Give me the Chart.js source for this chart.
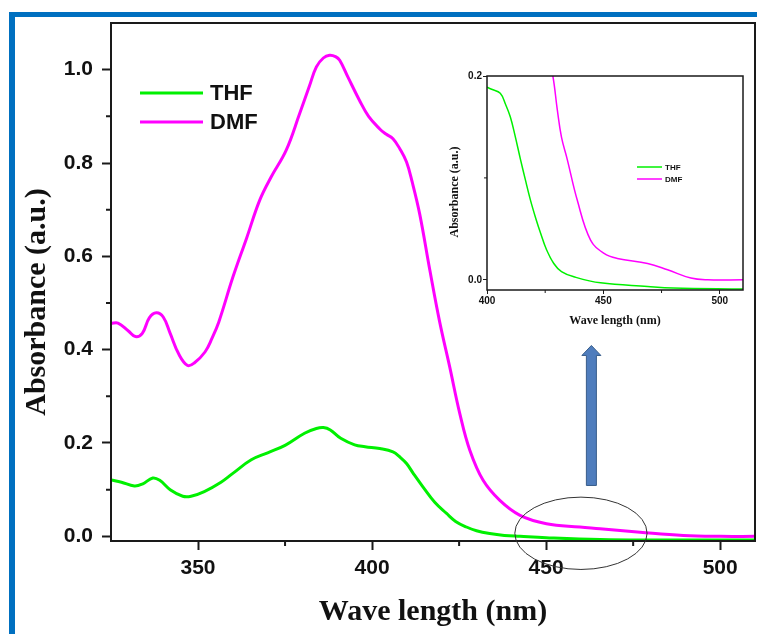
<!DOCTYPE html>
<html>
<head>
<meta charset="utf-8">
<script src="https://cdn.jsdelivr.net/npm/chart.js@4.4.0/dist/chart.umd.min.js"></script>
<style>
html, body { margin: 0; padding: 0; background: #fff; overflow: hidden; }
#frame { position: absolute; left: 9px; top: 12px; width: 800px; height: 700px;
         border-top: 5px solid #0070c0; border-left: 6px solid #0070c0; }
#c1 { position: absolute; left: 0; top: 0; }
#c2 { position: absolute; left: 440px; top: 60px; }
</style>
</head>
<body>
<div id="frame"></div>
<canvas id="c1" width="757" height="634"></canvas>
<canvas id="c2" width="317" height="280"></canvas>
<script>
// series names
const series = ['THF', 'DMF'];

// main plot, DMF
const wlDMF = [325, 327, 330, 332, 334, 336, 338, 340, 342, 344.5, 347, 349, 352, 354, 356, 360, 364,
  367.7, 371, 375.3, 379.2, 382, 384, 386, 387.8, 389.5, 390.7, 393, 396.4, 399, 402.2, 404, 406, 408,
  409.9, 411.5, 413.7, 416.6, 419.4, 422.3, 425.2, 428.1, 431.9, 436.7, 442.5, 450.1, 459.7, 465.5,
  477, 489.4, 500, 510];
const absDMF = [0.456, 0.457, 0.44, 0.428, 0.435, 0.468, 0.479, 0.47, 0.435, 0.39, 0.366, 0.372, 0.395,
  0.424, 0.46, 0.555, 0.64, 0.72, 0.77, 0.827, 0.906, 0.965, 1.006, 1.025, 1.031, 1.028, 1.02, 0.985,
  0.934, 0.9, 0.873, 0.862, 0.852, 0.83, 0.802, 0.76, 0.69, 0.57, 0.46, 0.363, 0.263, 0.184, 0.12,
  0.077, 0.045, 0.027, 0.02, 0.0165, 0.009, 0.002, 0.0, 0.0];

// main plot, THF
const wlTHF = [325, 328, 331.7, 334, 337, 339, 342, 345.6, 348, 351.8, 356.6, 360, 365.3, 370, 375,
  380.6, 384, 386, 388, 391, 395, 398, 402.2, 406, 408, 409.9, 412, 414.6, 418, 421.4, 424, 427.1,
  430, 433.8, 438, 442.5, 450, 465.5, 480, 510];
const absTHF = [0.121, 0.116, 0.108, 0.112, 0.125, 0.12, 0.1, 0.086, 0.086, 0.096, 0.116, 0.135, 0.164,
  0.179, 0.195, 0.221, 0.231, 0.233, 0.228, 0.21, 0.196, 0.192, 0.188, 0.181, 0.17, 0.156, 0.133,
  0.106, 0.073, 0.049, 0.032, 0.02, 0.012, 0.006, 0.002, 0.0, -0.003, -0.007, -0.008, -0.008];

// inset
const insetWlDMF = [426.5, 428.3, 430.2, 432, 434.5, 438.8, 444.5, 450.3, 456, 469, 477.6, 487.6, 494.8, 510];
const insetAbsDMF = [0.215, 0.2, 0.167, 0.14, 0.118, 0.078, 0.039, 0.026, 0.021, 0.016, 0.0098, 0.0017, 0.0, 0.0];
const insetWlTHF = [400, 402, 405.7, 408, 410, 412, 414.4, 416.5, 418.7, 421, 423, 425.5, 428.7, 432,
  437.3, 448.8, 469, 480, 510];
const insetAbsTHF = [0.189, 0.187, 0.183, 0.172, 0.16, 0.142, 0.118, 0.098, 0.078, 0.06, 0.046, 0.03,
  0.016, 0.008, 0.003, -0.003, -0.0065, -0.008, -0.009];

// ticks
const xTicks = [350, 400, 450, 500];
const xMinor = [375, 425, 475];
const yTicks = [0, 0.2, 0.4, 0.6, 0.8, 1.0];
const yMinor = [0.1, 0.3, 0.5, 0.7, 0.9];
const insetXTicks = [400, 450, 500];
const insetXMinor = [425, 475];
const insetYTicks = [0, 0.2];
const insetYMinor = [0.1];

// annotations (data coordinates)
const ellipseBox = { wl: [441, 479], abs: [-0.071, 0.084] };
const arrowMark = { wl: 463, from: 0.109, to: 0.409 };

const colors = ['#00f000', '#ff00ff'];
const SANS = "'Liberation Sans', Arial, sans-serif";
const SERIF = "'Liberation Serif', 'Times New Roman', serif";

function pts(xs, ys) {
  return xs.map((v, i) => ({ x: v, y: ys[i] }));
}

const deco = {
  id: 'deco',
  afterDraw(chart, args, o) {
    const { ctx, chartArea: a, scales: { x, y } } = chart;
    ctx.save();
    ctx.strokeStyle = '#1a1a1a';
    ctx.lineWidth = o.tickWidth;
    ctx.beginPath();
    o.xMinor.forEach(v => {
      const px = x.getPixelForValue(v);
      ctx.moveTo(px, a.bottom);
      ctx.lineTo(px, a.bottom + o.minorLen);
    });
    o.yMinor.forEach(v => {
      const py = y.getPixelForValue(v);
      ctx.moveTo(a.left, py);
      ctx.lineTo(a.left - o.minorLen, py);
    });
    ctx.stroke();

    // box
    ctx.lineWidth = o.frameWidth;
    ctx.strokeRect(a.left, a.top, a.right - a.left, a.bottom - a.top);

    // legend
    ctx.font = o.legend.font;
    ctx.textBaseline = 'middle';
    ctx.textAlign = 'left';
    chart.data.datasets.forEach((ds, i) => {
      const ly = o.legend.y + i * o.legend.gap;
      ctx.strokeStyle = ds.borderColor;
      ctx.lineWidth = ds.borderWidth;
      ctx.beginPath();
      ctx.moveTo(o.legend.x, ly);
      ctx.lineTo(o.legend.x + o.legend.len, ly);
      ctx.stroke();
      ctx.fillStyle = '#111';
      ctx.fillText(ds.label, o.legend.x + o.legend.len + o.legend.space, ly + 1);
    });

    // y title
    ctx.font = o.yTitle.font;
    ctx.fillStyle = '#111';
    ctx.textAlign = 'center';
    ctx.translate(o.yTitle.x, o.yTitle.y);
    ctx.rotate(-Math.PI / 2);
    ctx.fillText(o.yTitle.text, 0, 0);
    ctx.restore();

    if (o.marks) {
      ctx.save();
      // ellipse
      const ex0 = x.getPixelForValue(ellipseBox.wl[0]), ex1 = x.getPixelForValue(ellipseBox.wl[1]);
      const ey0 = y.getPixelForValue(ellipseBox.abs[0]), ey1 = y.getPixelForValue(ellipseBox.abs[1]);
      ctx.strokeStyle = '#333';
      ctx.lineWidth = 1;
      ctx.beginPath();
      ctx.ellipse((ex0 + ex1) / 2, (ey0 + ey1) / 2, Math.abs(ex1 - ex0) / 2, Math.abs(ey1 - ey0) / 2, 0, 0, Math.PI * 2);
      ctx.stroke();
      // arrow
      const ax = x.getPixelForValue(arrowMark.wl);
      const yb = y.getPixelForValue(arrowMark.from);
      const yt = y.getPixelForValue(arrowMark.to);
      ctx.fillStyle = '#4f7dbd';
      ctx.strokeStyle = '#385d8a';
      ctx.beginPath();
      ctx.moveTo(ax - 5, yb);
      ctx.lineTo(ax - 5, yt + 10);
      ctx.lineTo(ax - 9.5, yt + 10);
      ctx.lineTo(ax, yt);
      ctx.lineTo(ax + 9.5, yt + 10);
      ctx.lineTo(ax + 5, yt + 10);
      ctx.lineTo(ax + 5, yb);
      ctx.closePath();
      ctx.fill();
      ctx.stroke();
      ctx.restore();
    }
  }
};

// main chart
new Chart(document.getElementById('c1'), {
  type: 'line',
  data: {
    datasets: [{
      label: series[0],
      data: pts(wlTHF, absTHF),
      borderColor: colors[0],
      borderWidth: 3,
      pointRadius: 0,
      tension: 0.4,
      fill: false
    }, {
      label: series[1],
      data: pts(wlDMF, absDMF),
      borderColor: colors[1],
      borderWidth: 3,
      pointRadius: 0,
      tension: 0.4,
      fill: false
    }]
  },
  options: {
    responsive: false,
    animation: false,
    layout: { padding: { top: 23, right: 2, left: 0, bottom: 0 } },
    plugins: {
      legend: { display: false },
      tooltip: { enabled: false },
      deco: {
        xMinor: xMinor, yMinor: yMinor, minorLen: 5, tickWidth: 2, frameWidth: 2, marks: true,
        legend: { x: 140, y: 93, gap: 29, len: 63, space: 7, font: 'bold 22px ' + SANS },
        yTitle: { text: 'Absorbance (a.u.)', x: 37, y: 302, font: 'bold 30px ' + SERIF }
      }
    },
    scales: {
      x: {
        type: 'linear',
        min: 325,
        max: 510,
        afterBuildTicks: s => { s.ticks = xTicks.map(v => ({ value: v })); },
        afterFit: s => { s.height = 93; },
        grid: { drawOnChartArea: false, tickLength: 9, tickWidth: 2, tickColor: '#1a1a1a' },
        border: { display: false },
        ticks: { font: { family: SANS, weight: 'bold', size: 21 }, color: '#111', padding: 6, maxRotation: 0, autoSkip: false },
        title: { display: true, text: 'Wave length (nm)', color: '#111',
                 font: { family: SERIF, weight: 'bold', size: 30 }, padding: { top: 0, bottom: 4 } }
      },
      y: {
        min: -0.01,
        max: 1.1,
        afterBuildTicks: s => { s.ticks = yTicks.map(v => ({ value: v })); },
        afterFit: s => { s.width = 111; },
        grid: { drawOnChartArea: false, tickLength: 9, tickWidth: 2, tickColor: '#1a1a1a' },
        border: { display: false },
        ticks: { font: { family: SANS, weight: 'bold', size: 21 }, color: '#111', padding: 9,
                 callback: v => v.toFixed(1) }
      }
    }
  },
  plugins: [deco]
});

// inset
new Chart(document.getElementById('c2'), {
  type: 'line',
  data: {
    datasets: [{
      label: series[0],
      data: pts(insetWlTHF, insetAbsTHF),
      borderColor: colors[0],
      borderWidth: 1.5,
      pointRadius: 0,
      tension: 0.4,
      fill: false
    }, {
      label: series[1],
      data: pts(insetWlDMF, insetAbsDMF),
      borderColor: colors[1],
      borderWidth: 1.5,
      pointRadius: 0,
      tension: 0.4,
      fill: false
    }]
  },
  options: {
    responsive: false,
    animation: false,
    layout: { padding: { top: 16, right: 14, left: 0, bottom: 0 } },
    plugins: {
      legend: { display: false },
      tooltip: { enabled: false },
      deco: {
        xMinor: insetXMinor, yMinor: insetYMinor, minorLen: 3, tickWidth: 1, frameWidth: 1.5, marks: false,
        legend: { x: 197, y: 107, gap: 12, len: 25, space: 3, font: 'bold 8px ' + SANS },
        yTitle: { text: 'Absorbance (a.u.)', x: 15, y: 132, font: 'bold 12px ' + SERIF }
      }
    },
    scales: {
      x: {
        type: 'linear',
        min: 400,
        max: 510,
        afterBuildTicks: s => { s.ticks = insetXTicks.map(v => ({ value: v })); },
        afterFit: s => { s.height = 50; },
        grid: { drawOnChartArea: false, tickLength: 4, tickWidth: 1, tickColor: '#1a1a1a' },
        border: { display: false },
        ticks: { font: { family: SANS, weight: 'bold', size: 10 }, color: '#111', padding: 1, maxRotation: 0, autoSkip: false },
        title: { display: true, text: 'Wave length (nm)', color: '#111',
                 font: { family: SERIF, weight: 'bold', size: 12 }, padding: { top: 0, bottom: 12 } }
      },
      y: {
        min: -0.01,
        max: 0.2,
        afterBuildTicks: s => { s.ticks = insetYTicks.map(v => ({ value: v })); },
        afterFit: s => { s.width = 47; },
        grid: { drawOnChartArea: false, tickLength: 4, tickWidth: 1, tickColor: '#1a1a1a' },
        border: { display: false },
        ticks: { font: { family: SANS, weight: 'bold', size: 10 }, color: '#111', padding: 1,
                 callback: v => v.toFixed(1) }
      }
    }
  },
  plugins: [deco]
});
</script>
</body>
</html>
